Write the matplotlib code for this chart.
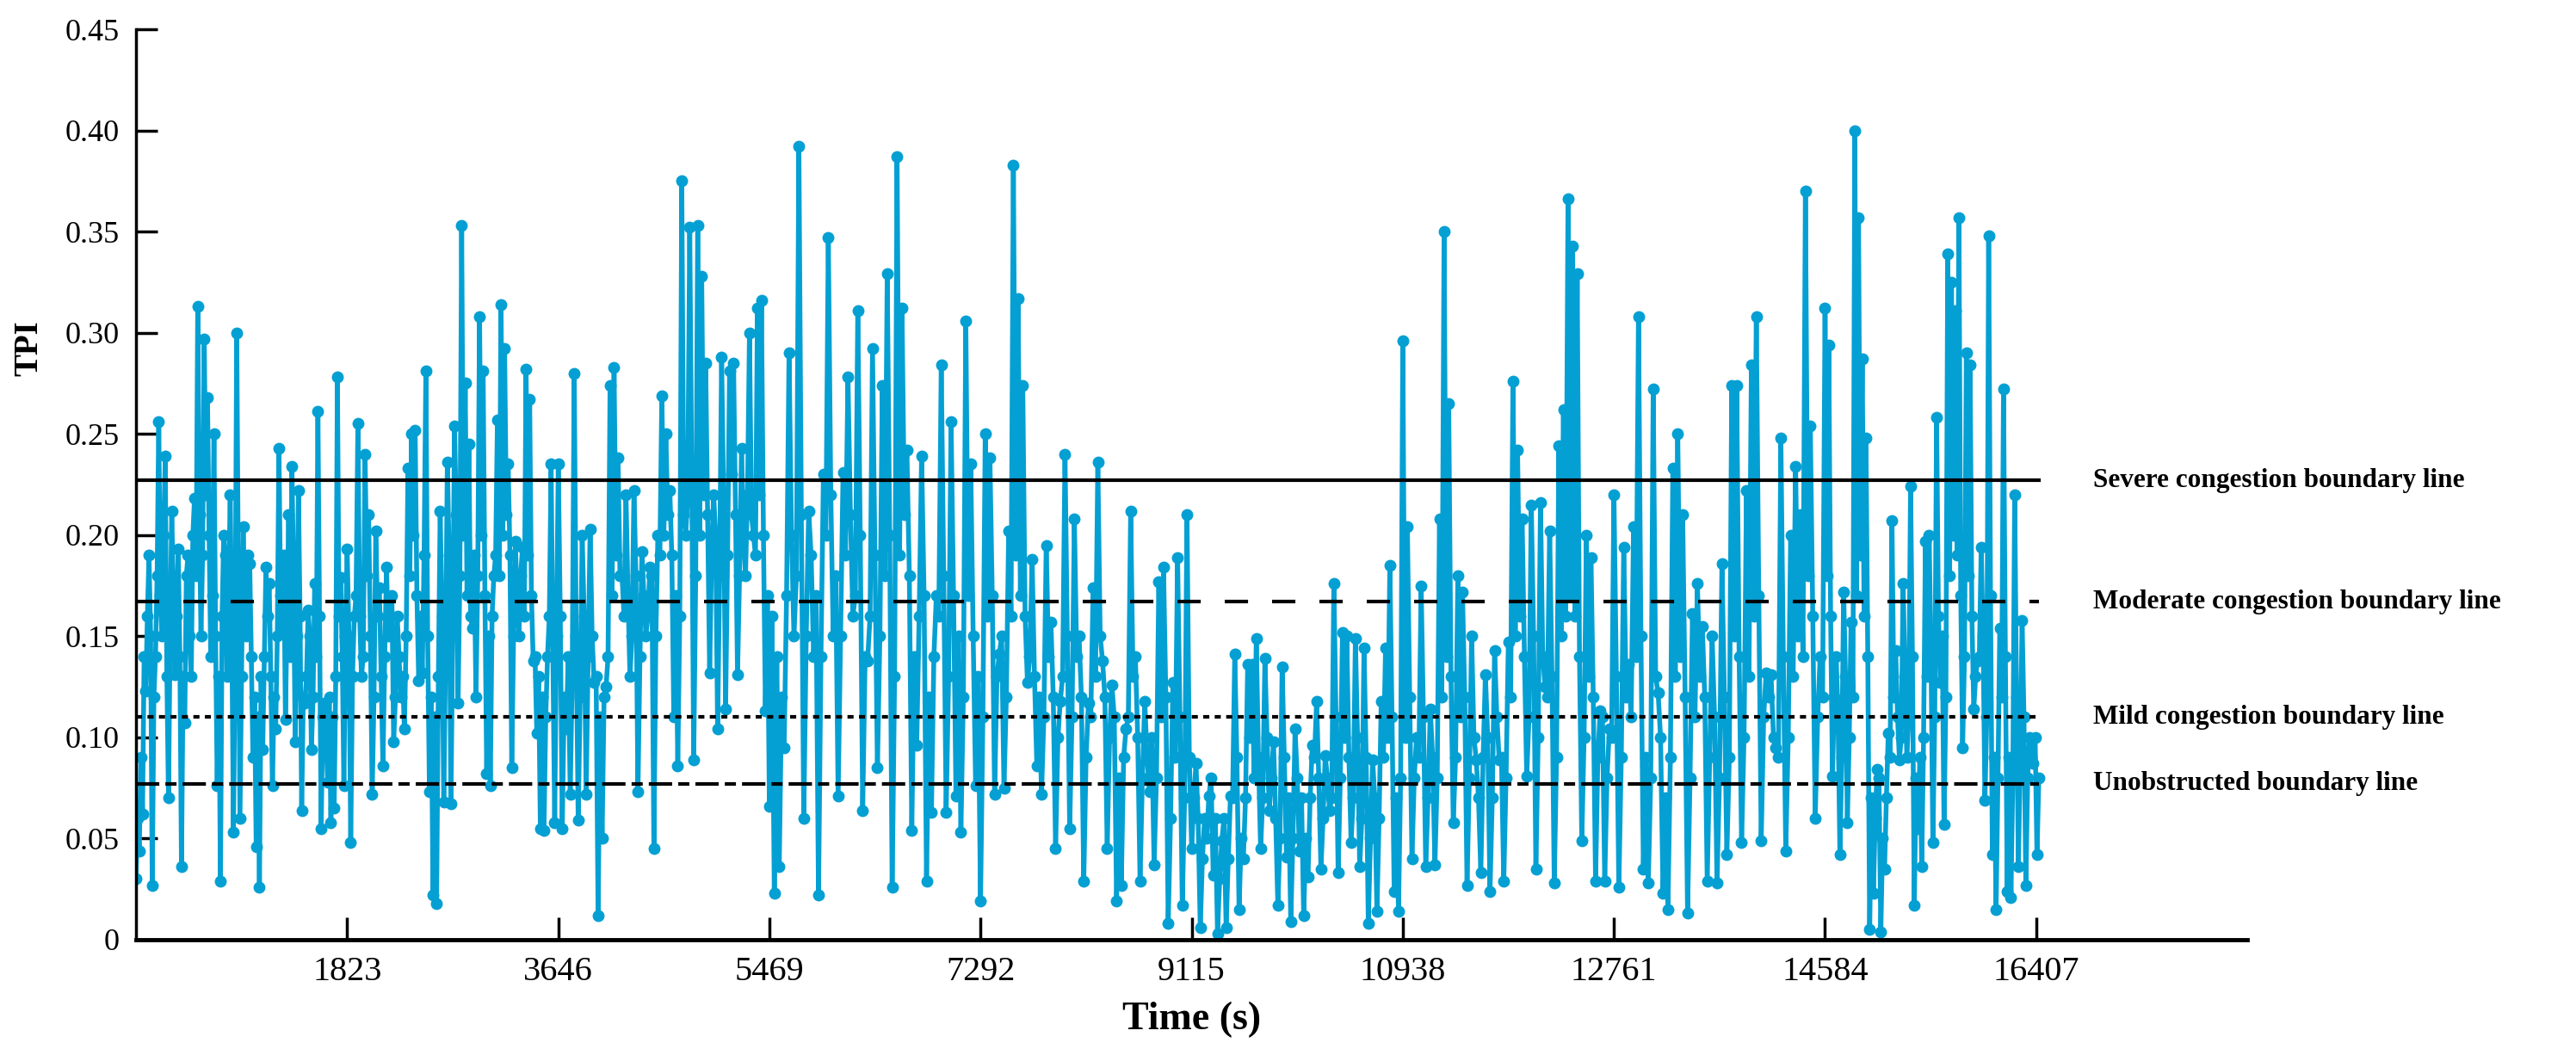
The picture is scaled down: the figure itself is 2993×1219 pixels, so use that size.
import numpy as np
import matplotlib
matplotlib.use('Agg')
import matplotlib.pyplot as plt

plt.rcParams['font.family'] = ['Liberation Serif', 'DejaVu Serif']

# TPI values, one list per 1823 s tick interval.
# segN holds the peaks/troughs, fillN the points of the dense band between them.
seg0 = [0.030, 0.044, 0.062, 0.123, 0.190, 0.027, 0.140, 0.256, 0.150, 0.239, 0.070, 0.212, 0.131,
        0.193, 0.036, 0.107, 0.190, 0.130, 0.218, 0.313, 0.150, 0.297, 0.268, 0.140, 0.250, 0.076,
        0.029, 0.200, 0.130, 0.220, 0.053, 0.300, 0.060, 0.204, 0.150, 0.186, 0.090, 0.046, 0.026,
        0.094, 0.184, 0.176, 0.076, 0.104, 0.243, 0.155, 0.109, 0.210, 0.234, 0.098, 0.222, 0.064,
        0.117, 0.163, 0.094, 0.176, 0.261, 0.055, 0.117, 0.078, 0.058, 0.065, 0.278, 0.179, 0.076]
fill0 = [0.060, 0.090, 0.140, 0.160, 0.150, 0.120, 0.180, 0.170, 0.200, 0.130, 0.150, 0.170, 0.160,
         0.140, 0.130, 0.180, 0.150, 0.200, 0.180, 0.210, 0.190, 0.220, 0.200, 0.170, 0.150, 0.130,
         0.160, 0.190, 0.170, 0.150, 0.140, 0.180, 0.130, 0.160, 0.190, 0.140, 0.120, 0.110, 0.130,
         0.140, 0.160, 0.130, 0.120, 0.150, 0.170, 0.190, 0.160, 0.140, 0.180, 0.150, 0.160, 0.120,
         0.130, 0.150, 0.120, 0.140, 0.160, 0.110, 0.100, 0.120, 0.110, 0.130, 0.160, 0.140, 0.150]
seg1 = [0.193, 0.048, 0.160, 0.255, 0.130, 0.240, 0.210, 0.072, 0.202, 0.174, 0.086, 0.184, 0.160,
        0.098, 0.160, 0.120, 0.104, 0.233, 0.250, 0.252, 0.128, 0.132, 0.281, 0.073, 0.022, 0.018,
        0.212, 0.068, 0.236, 0.067, 0.254, 0.117, 0.353, 0.275, 0.245, 0.154, 0.120, 0.308, 0.281,
        0.082, 0.076, 0.180, 0.257, 0.314, 0.292, 0.235, 0.085, 0.197, 0.150, 0.194, 0.282, 0.267,
        0.138, 0.102, 0.055, 0.054, 0.140, 0.235, 0.058]
fill1 = [0.150, 0.130, 0.170, 0.160, 0.140, 0.180, 0.150, 0.120, 0.160, 0.130, 0.140, 0.150, 0.170,
         0.120, 0.140, 0.130, 0.150, 0.180, 0.200, 0.170, 0.160, 0.190, 0.150, 0.120, 0.110, 0.130,
         0.160, 0.140, 0.190, 0.150, 0.210, 0.180, 0.200, 0.170, 0.160, 0.190, 0.180, 0.200, 0.170,
         0.150, 0.160, 0.190, 0.180, 0.200, 0.210, 0.190, 0.150, 0.170, 0.180, 0.160, 0.190, 0.170,
         0.140, 0.130, 0.120, 0.110, 0.160, 0.140, 0.150]
seg2 = [0.235, 0.055, 0.104, 0.072, 0.280, 0.059, 0.200, 0.072, 0.203, 0.127, 0.012, 0.050, 0.125,
        0.274, 0.283, 0.238, 0.180, 0.220, 0.130, 0.222, 0.073, 0.192, 0.150, 0.184, 0.045, 0.200,
        0.269, 0.250, 0.222, 0.110, 0.086, 0.375, 0.200, 0.352, 0.089, 0.353, 0.328, 0.285, 0.132,
        0.220, 0.104, 0.288, 0.114, 0.281, 0.285, 0.131, 0.243, 0.180, 0.300, 0.200, 0.312, 0.316,
        0.113]
fill2 = [0.160, 0.120, 0.140, 0.130, 0.150, 0.120, 0.160, 0.140, 0.150, 0.130, 0.110, 0.120, 0.140,
         0.170, 0.190, 0.180, 0.160, 0.170, 0.150, 0.180, 0.140, 0.170, 0.160, 0.180, 0.150, 0.190,
         0.200, 0.210, 0.190, 0.170, 0.160, 0.210, 0.220, 0.230, 0.180, 0.200, 0.220, 0.210, 0.190,
         0.200, 0.180, 0.220, 0.190, 0.230, 0.210, 0.180, 0.200, 0.220, 0.210, 0.190, 0.220, 0.200,
         0.170]
seg3 = [0.066, 0.023, 0.036, 0.095, 0.290, 0.150, 0.392, 0.060, 0.212, 0.140, 0.022, 0.230, 0.347,
        0.150, 0.071, 0.231, 0.278, 0.160, 0.311, 0.064, 0.138, 0.292, 0.085, 0.274, 0.329, 0.026,
        0.387, 0.312, 0.242, 0.054, 0.096, 0.239, 0.029, 0.063, 0.170, 0.284, 0.063, 0.256, 0.071,
        0.053, 0.306, 0.235, 0.076]
fill3 = [0.160, 0.140, 0.120, 0.170, 0.200, 0.180, 0.210, 0.150, 0.190, 0.170, 0.140, 0.200, 0.220,
         0.180, 0.150, 0.190, 0.210, 0.170, 0.200, 0.140, 0.160, 0.190, 0.150, 0.180, 0.200, 0.130,
         0.190, 0.210, 0.180, 0.140, 0.160, 0.170, 0.120, 0.140, 0.160, 0.180, 0.130, 0.170, 0.150,
         0.120, 0.170, 0.150, 0.130]
seg4 = [0.019, 0.250, 0.238, 0.072, 0.141, 0.075, 0.202, 0.383, 0.317, 0.274, 0.127, 0.188, 0.086,
        0.072, 0.195, 0.157, 0.045, 0.118, 0.240, 0.055, 0.208, 0.150, 0.029, 0.117, 0.174, 0.236,
        0.138, 0.045, 0.126, 0.019, 0.027, 0.104, 0.212, 0.140, 0.029, 0.118, 0.073, 0.037, 0.177,
        0.184, 0.008, 0.127, 0.189, 0.017, 0.210]
fill4 = [0.110, 0.160, 0.170, 0.130, 0.150, 0.120, 0.160, 0.190, 0.170, 0.160, 0.140, 0.130, 0.120,
         0.110, 0.140, 0.120, 0.100, 0.130, 0.150, 0.110, 0.140, 0.120, 0.090, 0.110, 0.130, 0.150,
         0.120, 0.100, 0.110, 0.080, 0.090, 0.110, 0.130, 0.100, 0.080, 0.090, 0.100, 0.080, 0.110,
         0.120, 0.060, 0.090, 0.110, 0.070, 0.090]
seg5 = [0.045, 0.087, 0.006, 0.060, 0.071, 0.032, 0.003, 0.049, 0.006, 0.071, 0.141, 0.015, 0.040,
        0.136, 0.136, 0.149, 0.045, 0.139, 0.064, 0.098, 0.017, 0.135, 0.041, 0.009, 0.104, 0.044,
        0.012, 0.031, 0.096, 0.118, 0.035, 0.091, 0.064, 0.176, 0.033, 0.152, 0.150, 0.048, 0.149,
        0.036, 0.144, 0.008, 0.089, 0.014, 0.118, 0.144, 0.185, 0.024, 0.014]
fill5 = [0.070, 0.060, 0.040, 0.050, 0.080, 0.060, 0.030, 0.060, 0.040, 0.070, 0.090, 0.050, 0.070,
         0.100, 0.080, 0.090, 0.070, 0.100, 0.080, 0.060, 0.050, 0.090, 0.070, 0.050, 0.080, 0.070,
         0.050, 0.070, 0.090, 0.080, 0.060, 0.080, 0.070, 0.110, 0.080, 0.100, 0.090, 0.070, 0.100,
         0.060, 0.090, 0.050, 0.070, 0.060, 0.090, 0.100, 0.110, 0.070, 0.080]
seg6 = [0.296, 0.204, 0.040, 0.100, 0.175, 0.036, 0.114, 0.037, 0.208, 0.350, 0.265, 0.058, 0.180,
        0.172, 0.027, 0.150, 0.089, 0.033, 0.131, 0.024, 0.143, 0.089, 0.029, 0.147, 0.276, 0.242,
        0.208, 0.081, 0.215, 0.035, 0.216, 0.125, 0.202, 0.028, 0.244, 0.262, 0.366, 0.343, 0.329,
        0.049, 0.200, 0.189, 0.029, 0.113, 0.029, 0.104]
fill6 = [0.100, 0.120, 0.080, 0.090, 0.110, 0.070, 0.090, 0.080, 0.120, 0.140, 0.130, 0.090, 0.110,
         0.120, 0.080, 0.100, 0.070, 0.090, 0.100, 0.070, 0.110, 0.090, 0.080, 0.120, 0.150, 0.160,
         0.140, 0.110, 0.150, 0.100, 0.140, 0.120, 0.130, 0.090, 0.150, 0.160, 0.170, 0.160, 0.140,
         0.100, 0.130, 0.120, 0.090, 0.110, 0.080, 0.100]
seg7 = [0.220, 0.026, 0.194, 0.136, 0.204, 0.308, 0.035, 0.028, 0.272, 0.122, 0.023, 0.015, 0.233,
        0.250, 0.210, 0.013, 0.161, 0.176, 0.155, 0.029, 0.150, 0.028, 0.186, 0.042, 0.274, 0.274,
        0.048, 0.222, 0.284, 0.308, 0.049, 0.132, 0.131, 0.095, 0.248, 0.044, 0.200, 0.234, 0.210,
        0.370, 0.254, 0.060, 0.140]
fill7 = [0.130, 0.090, 0.120, 0.110, 0.140, 0.150, 0.090, 0.080, 0.130, 0.100, 0.070, 0.090, 0.130,
         0.140, 0.120, 0.080, 0.110, 0.130, 0.120, 0.090, 0.110, 0.080, 0.120, 0.090, 0.150, 0.140,
         0.100, 0.130, 0.160, 0.170, 0.110, 0.120, 0.100, 0.090, 0.140, 0.100, 0.130, 0.150, 0.140,
         0.180, 0.160, 0.110, 0.120]
seg8 = [0.312, 0.294, 0.081, 0.140, 0.042, 0.172, 0.058, 0.157, 0.400, 0.357, 0.287, 0.248, 0.005,
        0.023, 0.084, 0.004, 0.035, 0.102, 0.207, 0.143, 0.089, 0.176, 0.090, 0.224, 0.017, 0.055,
        0.036, 0.197, 0.200, 0.048, 0.258, 0.127, 0.057, 0.339, 0.325, 0.311, 0.357, 0.095, 0.290,
        0.284, 0.114, 0.138, 0.194, 0.069, 0.348, 0.042, 0.015, 0.154, 0.272, 0.024, 0.021, 0.220,
        0.036, 0.158, 0.027, 0.100, 0.087, 0.042]
fill8 = [0.180, 0.160, 0.120, 0.110, 0.090, 0.130, 0.100, 0.120, 0.170, 0.190, 0.160, 0.140, 0.070,
         0.060, 0.080, 0.050, 0.070, 0.090, 0.120, 0.110, 0.100, 0.130, 0.110, 0.140, 0.080, 0.090,
         0.100, 0.130, 0.140, 0.110, 0.160, 0.150, 0.120, 0.180, 0.200, 0.190, 0.170, 0.140, 0.180,
         0.160, 0.130, 0.140, 0.150, 0.110, 0.170, 0.090, 0.080, 0.120, 0.140, 0.090, 0.080, 0.120,
         0.090, 0.110, 0.080, 0.090, 0.100, 0.080]
segments = [(seg0, fill0), (seg1, fill1), (seg2, fill2), (seg3, fill3), (seg4, fill4),
            (seg5, fill5), (seg6, fill6), (seg7, fill7), (seg8, fill8)]

step = 1823
t_end = 16430
xtick_vals = [1823, 3646, 5469, 7292, 9115, 10938, 12761, 14584, 16407]
ytick_vals = [0, 0.05, 0.10, 0.15, 0.20, 0.25, 0.30, 0.35, 0.40, 0.45]

boundaries = [0.227, 0.167, 0.110, 0.077]
boundary_names = ['Severe congestion boundary line', 'Moderate congestion boundary line',
                  'Mild congestion boundary line', 'Unobstructed boundary line']
boundary_styles = ['-', (0, (6.5, 6.7)), (0, (1.7, 1.5)), (0, (6.5, 1.7, 3.1, 1.7))]

t = []
tpi = []
for k, (seg, fill) in enumerate(segments):
    vals = []
    for a, b in zip(seg, fill):
        vals += [a, b]
    last = k == len(segments) - 1
    stop = t_end if last else (k + 1) * step
    t.extend(np.linspace(k * step, stop, len(vals), endpoint=last))
    tpi.extend(vals)

fig = plt.figure(figsize=(29.93, 12.19), dpi=100)
ax = fig.add_axes([0.0528, 0.1042, 0.8196, 0.8679])

ax.plot(t, tpi, color='#05a0d3', lw=4, marker='o', ms=9, zorder=2)

for y, name, ls in zip(boundaries, boundary_names, boundary_styles):
    ax.plot([0, t_end], [y, y], color='black', lw=3, linestyle=ls, zorder=3)
    ax.text(16900, y, name, fontsize=22.5, fontweight='bold', va='center', ha='left',
            clip_on=False)

ax.set_xlim(0, 18230)
ax.set_ylim(0, 0.45)
ax.set_xticks(xtick_vals)
ax.set_xticklabels([str(v) for v in xtick_vals])
ax.set_yticks(ytick_vals)
ax.set_yticklabels(['0'] + ['%.2f' % v for v in ytick_vals[1:]])
ax.tick_params(axis='y', direction='in', length=18, width=2.5, labelsize=26, pad=14)
ax.tick_params(axis='x', direction='in', length=19, width=2.5, labelsize=29, pad=14)

for s in ['top', 'right']:
    ax.spines[s].set_visible(False)
ax.spines['left'].set_linewidth(2.5)
ax.spines['bottom'].set_linewidth(3.5)

ax.set_xlabel('Time (s)', fontsize=33, fontweight='bold', labelpad=11)
ax.set_ylabel('TPI', fontsize=28, fontweight='bold', va='center')
ax.yaxis.set_label_coords(-0.0506, 0.65)

fig.savefig('out.png', dpi=100)
